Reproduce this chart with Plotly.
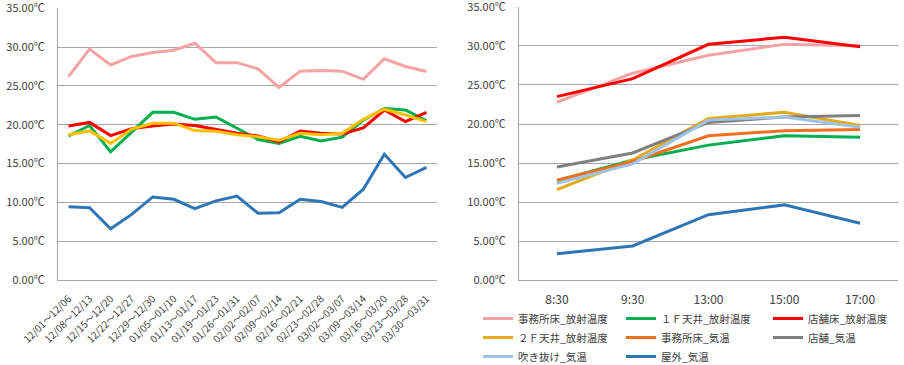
import plotly.graph_objects as go

# ---------------- data ----------------
weeks = ["12/01～12/06", "12/08～12/13", "12/15～12/20", "12/22～12/27", "12/29～12/30",
         "01/05～01/10", "01/13～01/17", "01/19～01/23", "01/26～01/31", "02/02～02/07",
         "02/09～02/14", "02/16～02/21", "02/23～02/28", "03/02～03/07", "03/09～03/14",
         "03/16～03/20", "03/23～03/28", "03/30～03/31"]

w_office_floor_rad = [26.2, 29.75, 27.7, 28.8, 29.3, 29.6, 30.5, 28.0, 28.0, 27.2,
                      24.8, 26.9, 27.0, 26.9, 25.85, 28.5, 27.5, 26.85]
w_1f_ceiling_rad = [18.55, 19.9, 16.5, 19.1, 21.6, 21.6, 20.7, 21.0, 19.5, 18.1,
                    17.6, 18.5, 17.9, 18.4, 20.6, 22.1, 21.9, 20.5]
w_shop_floor_rad = [19.85, 20.3, 18.6, 19.5, 19.85, 20.1, 19.9, 19.4, 18.9, 18.55,
                    17.8, 19.2, 18.9, 18.8, 19.6, 21.9, 20.4, 21.6]
w_2f_ceiling_rad = [18.7, 19.2, 17.6, 19.45, 20.2, 20.2, 19.25, 19.15, 18.7, 18.45,
                    18.0, 18.9, 18.7, 18.9, 20.7, 22.0, 21.25, 20.4]
w_outdoor = [9.45, 9.3, 6.6, 8.45, 10.7, 10.4, 9.2, 10.2, 10.8, 8.6,
             8.65, 10.4, 10.1, 9.35, 11.7, 16.2, 13.2, 14.5]

times = ["8:30", "9:30", "13:00", "15:00", "17:00"]
t_office_floor_rad = [22.8, 26.5, 28.8, 30.2, 30.0]
t_1f_ceiling_rad = [12.75, 15.4, 17.3, 18.5, 18.3]
t_shop_floor_rad = [23.5, 25.8, 30.2, 31.1, 29.9]
t_2f_ceiling_rad = [11.6, 15.4, 20.7, 21.5, 19.8]
t_office_air = [12.8, 15.2, 18.5, 19.15, 19.3]
t_shop_air = [14.5, 16.3, 20.2, 20.9, 21.1]
t_atrium_air = [12.4, 14.9, 20.5, 20.9, 19.6]
t_outdoor = [3.4, 4.4, 8.4, 9.65, 7.3]

y_ticks = [0, 5, 10, 15, 20, 25, 30, 35]
y_tick_labels = ["0.00℃", "5.00℃", "10.00℃", "15.00℃", "20.00℃", "25.00℃", "30.00℃", "35.00℃"]

# ---------------- styling ----------------
FONT = "Noto Sans CJK JP"
W, H = 904, 365
GRID = "#A6A6A6"
TXT = "#404040"
LW = 3


def px(x):   # window pixel -> paper fraction (x)
    return x / W


def py(y):   # window pixel (from top) -> paper fraction (y)
    return (H - y) / H


fig = go.Figure()

# left chart (weekly)
left_series = [
    ("事務所床_放射温度", w_office_floor_rad, "#F5A3A6"),
    ("１Ｆ天井_放射温度", w_1f_ceiling_rad, "#00B050"),
    ("店舗床_放射温度", w_shop_floor_rad, "#FF0000"),
    ("２Ｆ天井_放射温度", w_2f_ceiling_rad, "#FFC000"),
    ("屋外_気温", w_outdoor, "#2E75B6"),
]
for name, ys, col in left_series:
    fig.add_trace(go.Scatter(x=weeks, y=ys, mode="lines", name=name,
                             line=dict(color=col, width=LW),
                             xaxis="x", yaxis="y", showlegend=False))

# right chart (time of day) with legends in three columns
right_series = [
    ("事務所床_放射温度", t_office_floor_rad, "#F5A3A6", "legend"),
    ("１Ｆ天井_放射温度", t_1f_ceiling_rad, "#00B050", "legend2"),
    ("店舗床_放射温度", t_shop_floor_rad, "#FF0000", "legend3"),
    ("２Ｆ天井_放射温度", t_2f_ceiling_rad, "#E5A91C", "legend"),
    ("事務所床_気温", t_office_air, "#F26F1F", "legend2"),
    ("店舗_気温", t_shop_air, "#808080", "legend3"),
    ("吹き抜け_気温", t_atrium_air, "#9DC3E6", "legend"),
    ("屋外_気温", t_outdoor, "#2E75B6", "legend2"),
]
for name, ys, col, lg in right_series:
    fig.add_trace(go.Scatter(x=times, y=ys, mode="lines", name=name,
                             line=dict(color=col, width=LW),
                             xaxis="x2", yaxis="y2", legend=lg))

yaxis_common = dict(range=[0, 35], tickmode="array", tickvals=y_ticks, ticktext=y_tick_labels,
                    showgrid=True, gridcolor=GRID, gridwidth=1,
                    showline=True, linecolor=GRID, linewidth=1,
                    zeroline=False, ticks="", fixedrange=True, automargin=False,
                    ticklabeloverflow="allow",
                    tickfont=dict(family=FONT, size=11, color=TXT))

legend_common = dict(xanchor="left", yanchor="top", orientation="v",
                     bgcolor="rgba(0,0,0,0)", tracegroupgap=0,
                     font=dict(family=FONT, size=10.5, color=TXT))
LEG_Y = py(304)

fig.update_layout(
    width=W, height=H,
    margin=dict(l=0, r=0, t=0, b=0, autoexpand=False),
    paper_bgcolor="white", plot_bgcolor="white",
    font=dict(family=FONT, color=TXT),
    xaxis=dict(domain=[px(58), px(437)], type="category", range=[-0.5, len(weeks) - 0.5],
               showline=True, linecolor=GRID, linewidth=1, showgrid=False, zeroline=False,
               ticks="", tickangle=-45, ticklabelstandoff=8, automargin=False,
               ticklabeloverflow="allow",
               tickfont=dict(family=FONT, size=10, color=TXT), anchor="y"),
    yaxis=dict(domain=[py(280), py(8.3)], anchor="x", ticklabelstandoff=10,
               **yaxis_common),
    xaxis2=dict(domain=[px(519), px(898)], type="category", range=[-0.5, len(times) - 0.5],
                showline=True, linecolor=GRID, linewidth=1, showgrid=False, zeroline=False,
                ticks="", ticklabelstandoff=8, automargin=False,
                ticklabeloverflow="allow",
                tickfont=dict(family=FONT, size=12, color=TXT), anchor="y2"),
    yaxis2=dict(domain=[py(280.3), py(6.8)], anchor="x2", ticklabelstandoff=10,
                **yaxis_common),
    legend=dict(x=px(478), y=LEG_Y, **legend_common),
    legend2=dict(x=px(621), y=LEG_Y, **legend_common),
    legend3=dict(x=px(768), y=LEG_Y, **legend_common),
)

fig.write_html(
    "out.html",
    config={"displayModeBar": False},
    post_script="document.body.style.margin='0';document.body.style.overflow='hidden';",
)
